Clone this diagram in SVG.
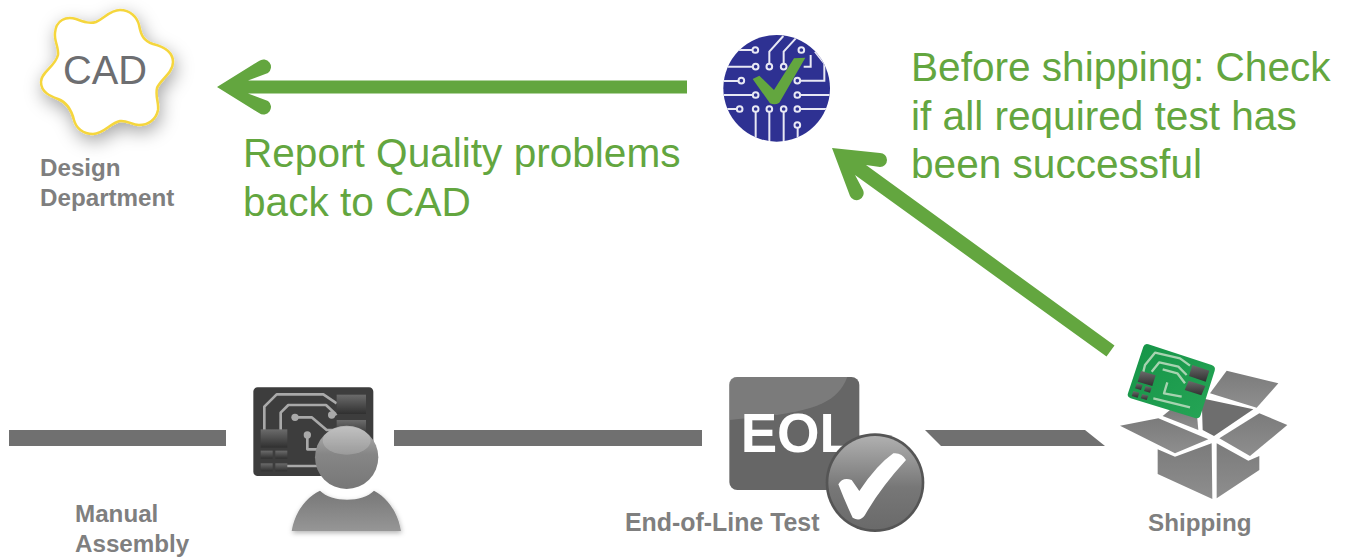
<svg xmlns="http://www.w3.org/2000/svg" width="1349" height="557" viewBox="0 0 1349 557">
<style>
text{font-family:"Liberation Sans",Arial,sans-serif}
.big{font-size:40.6px;fill:#63a63f}
.lbl{font-size:24.2px;font-weight:bold;fill:#7f7f7f}
.tr{fill:none;stroke:#e8e8f4;stroke-width:6}
.pad{fill:#2e3192;stroke:#e8e8f4;stroke-width:6}
.pt{fill:none;stroke:#a9a9a9;stroke-width:8;stroke-linejoin:round}
.gt{fill:none;stroke:#a7d3b0;stroke-width:7;stroke-linejoin:round}
.box{fill:url(#boxg)}
</style>
<defs>
<filter id="sh" x="-30%" y="-30%" width="160%" height="160%"><feDropShadow dx="2" dy="6" stdDeviation="9" flood-color="#000" flood-opacity=".35"/></filter>
<filter id="sh2" x="-20%" y="-20%" width="140%" height="140%"><feDropShadow dx="2" dy="6" stdDeviation="8" flood-color="#000" flood-opacity=".3"/></filter>
<clipPath id="cc"><circle cx="260" cy="235" r="160"/></clipPath>
<linearGradient id="head" x1="0" y1="0" x2="0" y2="1"><stop offset="0" stop-color="#b5b5b5"/><stop offset=".45" stop-color="#868686"/><stop offset="1" stop-color="#777"/></linearGradient>
<linearGradient id="body" x1="0" y1="0" x2="0" y2="1"><stop offset="0" stop-color="#777"/><stop offset="1" stop-color="#969696"/></linearGradient>
<linearGradient id="chip" x1="0" y1="0" x2="0" y2="1"><stop offset="0" stop-color="#6b6b6b"/><stop offset="1" stop-color="#303030"/></linearGradient>
<linearGradient id="ball" x1="0" y1="0" x2="0" y2="1"><stop offset="0" stop-color="#b0b0b0"/><stop offset=".55" stop-color="#777"/><stop offset="1" stop-color="#6a6a6a"/></linearGradient>
<linearGradient id="boxg" x1="0" y1="0" x2="0" y2="1"><stop offset="0" stop-color="#7b7b7b"/><stop offset="1" stop-color="#8e8e8e"/></linearGradient>
<linearGradient id="pcb" x1="0" y1="0" x2="1" y2="1"><stop offset="0" stop-color="#159447"/><stop offset="1" stop-color="#26a556"/></linearGradient>
</defs>
<rect width="1349" height="557" fill="#fff"/>

<g id="connectors">
<rect x="9" y="430" width="217" height="16" fill="#707070"/>
<rect x="394" y="430" width="308" height="16" fill="#707070"/>
<polygon points="925,430 1085,430 1105,446 941,446" fill="#707070"/>
<path d="M217,87 L259,61 A7.5,7.5 0 0 1 268,73 L248,80.500 H687 V93.500 H248 L268,101 A7.5,7.5 0 0 1 259,113 Z" fill="#63a63f"/>
<path d="M832,148 L880,153 A7,7 0 0 1 880,167 L866,165 L1114.500,345.500 L1106.500,356.500 L855,175 L863,190 A7,7 0 0 1 850,196 Z" fill="#63a63f"/>
</g>

<g id="cad">
<path d="M55,33 C56,20 66,16 76,19 C84,22 90,24 96,22 C105,18 110,10 120,10 C130,10 137,17 139,25 C141,36 144,41 153,44 C165,47 173,52 173,62 C173,73 160,80 157,88 C155,96 159,103 158,110 C156,120 148,125 139,125 C132,125 127,120 120,121 C110,123 104,134 93,134 C83,134 76,128 74,120 C71,108 66,102 58,99 C50,96 41,92 41,82 C41,72 55,67 58,55 C59,47 54,41 55,33 Z" fill="#fff" stroke="#f5d63d" stroke-width="2.500" filter="url(#sh)"/>
<text x="105" y="84" text-anchor="middle" font-size="39.800" fill="#6d6e71">CAD</text>
</g>
<g id="design-label"><text class="lbl" x="40" y="176">Design</text><text class="lbl" x="40" y="206">Department</text></g>

<g id="report-text"><text class="big" x="243" y="167">Report Quality problems</text><text class="big" x="243" y="216">back to CAD</text></g>
<g id="check-text"><text class="big" x="911" y="81">Before shipping: Check</text><text class="big" x="911" y="130">if all required test has</text><text class="big" x="911" y="178">been successful</text></g>

<g id="quality-gate" transform="translate(690,10) scale(.33333)">
<circle cx="260" cy="235" r="160" fill="#2e3192"/>
<g clip-path="url(#cc)">
<path class="tr" d="M140,120 H187 M105,170 H188 M95,213 H145 M100,255 H188 M110,297 H140 M197,306 V395 M238,306 V400 M281,306 V400 M331,297 H420 M331,255 H420 M331,212 H403 V160 L375,125 M323,353 V395 M238,160 V125 L280,78 M281,160 V125 L320,82 M341,170 H362 V135"/>
<circle class="pad" cx="196" cy="120" r="8.500"/><circle class="pad" cx="197" cy="170" r="8.500"/><circle class="pad" cx="238" cy="170" r="8.500"/><circle class="pad" cx="281" cy="170" r="8.500"/><circle class="pad" cx="334" cy="120" r="8.500"/>
<circle class="pad" cx="154" cy="212" r="8.500"/><circle class="pad" cx="322" cy="212" r="8.500"/><circle class="pad" cx="197" cy="255" r="8.500"/><circle class="pad" cx="322" cy="255" r="8.500"/>
<circle class="pad" cx="149" cy="297" r="8.500"/><circle class="pad" cx="197" cy="297" r="8.500"/><circle class="pad" cx="238" cy="297" r="8.500"/><circle class="pad" cx="281" cy="297" r="8.500"/><circle class="pad" cx="322" cy="297" r="8.500"/><circle class="pad" cx="322" cy="345" r="8.500"/>
</g>
<path d="M188,207 L208,197 L252,240 L312,145 L346,143 L268,278 Q255,287 240,280 Z" fill="#63a63f"/>
</g>

<g id="manual-assembly" transform="translate(220,370) scale(.33333)">
<rect x="100" y="52" width="360" height="266" rx="13" fill="#3d3d3d"/>
<path class="pt" d="M350,100 L310,73 H170 L133,110 V180 M350,135 L318,105 H205 L182,128 V180 M225,142 H275 L320,180 H350 M262,195 V238 H300 M200,288 H300"/>
<circle cx="225" cy="142" r="11" fill="#a9a9a9"/><circle cx="335" cy="135" r="11" fill="#a9a9a9"/><circle cx="262" cy="195" r="11" fill="#a9a9a9"/>
<rect x="350" y="74" width="88" height="58" fill="url(#chip)"/><rect x="350" y="150" width="88" height="50" fill="url(#chip)"/>
<rect x="122" y="178" width="80" height="55" fill="url(#chip)"/>
<rect x="122" y="242" width="36" height="24" fill="url(#chip)"/><rect x="166" y="242" width="36" height="24" fill="url(#chip)"/><rect x="122" y="280" width="36" height="24" fill="url(#chip)"/><rect x="166" y="280" width="36" height="24" fill="url(#chip)"/>
<circle cx="380" cy="262" r="95" fill="url(#head)"/>
<ellipse cx="380" cy="212" rx="72" ry="42" fill="#fff" opacity=".18"/>
<path d="M215,483 C225,425 258,382 300,362 C335,398 428,398 462,362 C505,385 535,430 543,483 Z" fill="url(#body)" filter="url(#sh2)"/>
</g>
<g id="manual-label"><text class="lbl" x="75" y="522">Manual</text><text class="lbl" x="75" y="552">Assembly</text></g>

<g id="eol" transform="translate(700,365) scale(.33333)">
<rect x="88" y="36" width="390" height="339" rx="24" fill="#666"/>
<path d="M112,36 H442 C410,120 330,145 88,165 V60 Q88,36 112,36 Z" fill="#8d8d8d" opacity=".55"/>
<text x="122" y="262" font-size="164" font-weight="bold" fill="#fff">EOL</text>
<circle cx="525" cy="353" r="148" fill="#555"/>
<circle cx="525" cy="353" r="140" fill="url(#ball)"/>
<path d="M415,358 Q428,335 455,345 L478,378 Q530,300 580,265 Q605,262 618,285 Q540,370 495,450 Q480,472 458,458 Q435,410 415,358 Z" fill="#fff"/>
</g>
<g id="eol-label"><text class="lbl" x="625" y="531" style="font-size:24.9px">End-of-Line Test</text></g>

<g id="shipping" transform="translate(1090,330) scale(.33333)">
<polygon class="box" points="410,122 565,160 500,233 360,190"/>
<polygon points="335,205 490,238 372,318 338,300" fill="#6e6e6e"/>
<polygon class="box" points="218,258 240,240 320,245 325,300"/>
<polygon class="box" points="90,287 205,265 355,328 255,370"/>
<polygon class="box" points="388,325 508,250 592,285 480,378"/>
<polygon class="box" points="203,358 255,380 365,340 367,507 203,432"/>
<polygon class="box" points="380,340 475,392 508,378 508,420 380,505"/>
<path d="M175,43 L365,105 Q378,110 374,122 L332,255 Q328,268 315,264 L122,205 Q110,200 114,190 L160,50 Q164,40 175,43 Z" fill="url(#pcb)"/>
<path class="gt" d="M300,107 L270,85 L195,68 L165,105 L160,125 M290,135 L265,110 L208,97 L185,125 M218,118 L262,130 L285,160 M232,157 L222,190 L275,200 M190,205 L300,232"/>
<polygon points="307,105 358,122 347,155 297,138" fill="url(#chip)"/><polygon points="296,152 346,168 334,196 284,180" fill="url(#chip)"/><polygon points="153,123 197,136 187,168 143,155" fill="url(#chip)"/>
<polygon points="140,160 158,165 153,180 135,175" fill="url(#chip)"/><polygon points="167,168 185,173 180,188 162,183" fill="url(#chip)"/><polygon points="130,183 148,188 143,203 125,198" fill="url(#chip)"/><polygon points="157,192 175,197 170,210 152,205" fill="url(#chip)"/>
</g>
<g id="shipping-label"><text class="lbl" x="1148" y="531">Shipping</text></g>
</svg>
